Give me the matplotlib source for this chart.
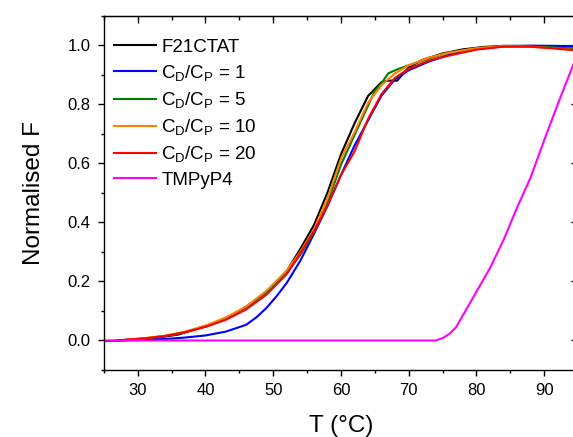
import matplotlib
matplotlib.use('Agg')
import matplotlib.pyplot as plt
from matplotlib.ticker import MultipleLocator

plt.rcParams['font.family'] = ['Liberation Sans', 'DejaVu Sans']
plt.rcParams['mathtext.default'] = 'regular'

# datos (T en grados C, F normalizada)
T_f21 = [27, 30, 33, 36, 39, 42, 45, 48, 50, 52, 54, 56, 58, 60, 62, 64, 66, 67, 68.3, 70, 72, 75, 78, 81, 84, 88, 91, 95]
F_f21 = [0.0, 0.005, 0.01, 0.02, 0.042, 0.065, 0.100, 0.145, 0.185, 0.235, 0.310, 0.390, 0.500, 0.630, 0.735, 0.828, 0.875, 0.880, 0.880, 0.925, 0.950, 0.972, 0.986, 0.994, 0.998, 0.998, 0.997, 0.995]

T_r1 = [25, 28, 31, 34, 37, 40, 43, 46, 47.5, 49, 50.5, 52, 54, 56, 58, 60, 62, 64, 66, 68, 70, 73, 76, 80, 84, 88, 91, 95]
F_r1 = [-0.002, 0.0, 0.002, 0.005, 0.01, 0.017, 0.03, 0.053, 0.078, 0.11, 0.15, 0.195, 0.27, 0.36, 0.455, 0.56, 0.66, 0.745, 0.83, 0.885, 0.915, 0.945, 0.968, 0.987, 0.996, 0.998, 0.998, 0.997]

T_r5 = [28, 31, 34, 37, 40, 43, 46, 49, 52, 54, 56, 58, 60, 62, 64, 65, 66, 67, 68.5, 70, 73, 76, 80, 84, 88, 91, 95]
F_r5 = [0.001, 0.007, 0.015, 0.028, 0.047, 0.073, 0.11, 0.16, 0.228, 0.29, 0.365, 0.465, 0.595, 0.695, 0.795, 0.845, 0.872, 0.905, 0.92, 0.932, 0.955, 0.975, 0.99, 0.997, 0.996, 0.993, 0.988]

T_r10 = [28, 31, 34, 37, 40, 43, 46, 49, 52, 54, 56, 58, 60, 62, 64, 66, 68, 70, 73, 76, 80, 84, 88, 91, 95]
F_r10 = [0.002, 0.008, 0.016, 0.03, 0.05, 0.078, 0.115, 0.168, 0.237, 0.300, 0.375, 0.480, 0.615, 0.705, 0.805, 0.865, 0.905, 0.932, 0.958, 0.975, 0.99, 0.997, 0.995, 0.99, 0.983]

T_r20 = [28, 31, 34, 37, 40, 43, 46, 49, 52, 54, 56, 58, 60, 62, 64, 66, 68, 70, 73, 76, 80, 84, 88, 91, 95]
F_r20 = [0.002, 0.007, 0.015, 0.028, 0.046, 0.07, 0.105, 0.155, 0.225, 0.295, 0.37, 0.455, 0.56, 0.64, 0.75, 0.835, 0.89, 0.92, 0.948, 0.965, 0.985, 0.995, 0.995, 0.99, 0.982]

T_tmp = [25, 74, 75, 76, 77, 78, 80, 82, 84, 86, 88, 90, 92, 95]
F_tmp = [0, 0, 0.008, 0.022, 0.045, 0.085, 0.165, 0.245, 0.34, 0.45, 0.552, 0.678, 0.80, 0.975]

etiquetas = ['F21CTAT',
             r'C$_\mathregular{D}$/C$_\mathregular{P}$ = 1',
             r'C$_\mathregular{D}$/C$_\mathregular{P}$ = 5',
             r'C$_\mathregular{D}$/C$_\mathregular{P}$ = 10',
             r'C$_\mathregular{D}$/C$_\mathregular{P}$ = 20',
             'TMPyP4']
colores = ['black', '#0000FF', '#008000', '#FF8000', '#FF0000', '#FF00FF']

fig = plt.figure(figsize=(5.73, 4.37), dpi=100)
ax = fig.add_axes([0.1812, 0.1533, 0.8276, 0.8108])

series = [(T_f21, F_f21), (T_r1, F_r1), (T_r5, F_r5), (T_r10, F_r10), (T_r20, F_r20), (T_tmp, F_tmp)]
for (t, f), lab, col in zip(series, etiquetas, colores):
    ax.plot(t, f, color=col, lw=1.5, label=lab)

ax.set_xlim(25, 95)
ax.set_ylim(-0.1, 1.1)
ax.xaxis.set_major_locator(MultipleLocator(10))
ax.xaxis.set_minor_locator(MultipleLocator(5))
ax.yaxis.set_major_locator(MultipleLocator(0.2))
ax.yaxis.set_minor_locator(MultipleLocator(0.1))
ax.yaxis.set_major_formatter(plt.FormatStrFormatter('%.1f'))
ax.tick_params(which='major', direction='out', length=4.5, width=1, labelsize=12, pad=5)
ax.tick_params(which='minor', direction='out', length=2.5, width=1)
for s in ax.spines.values():
    s.set_linewidth(1)

# ejes superior y derecho con marcas hacia adentro
arriba = ax.secondary_xaxis('top')
arriba.xaxis.set_major_locator(MultipleLocator(10))
arriba.xaxis.set_minor_locator(MultipleLocator(5))
arriba.tick_params(which='major', direction='in', length=5, width=1, labeltop=False)
arriba.tick_params(which='minor', direction='in', length=3, width=1)
derecha = ax.secondary_yaxis('right')
derecha.yaxis.set_major_locator(MultipleLocator(0.2))
derecha.yaxis.set_minor_locator(MultipleLocator(0.1))
derecha.tick_params(which='major', direction='in', length=5, width=1, labelright=False)
derecha.tick_params(which='minor', direction='in', length=3, width=1)

ax.set_xlabel('T (°C)', fontsize=17.5, labelpad=12)
ax.set_ylabel('Normalised F', fontsize=17.5, labelpad=16)

ax.legend(loc='upper left', bbox_to_anchor=(0.022, 0.935), frameon=False, fontsize=13.5,
          handlelength=2.2, handletextpad=0.3, labelspacing=0.38, borderaxespad=0, borderpad=0)

fig.savefig('out.png', dpi=100)
